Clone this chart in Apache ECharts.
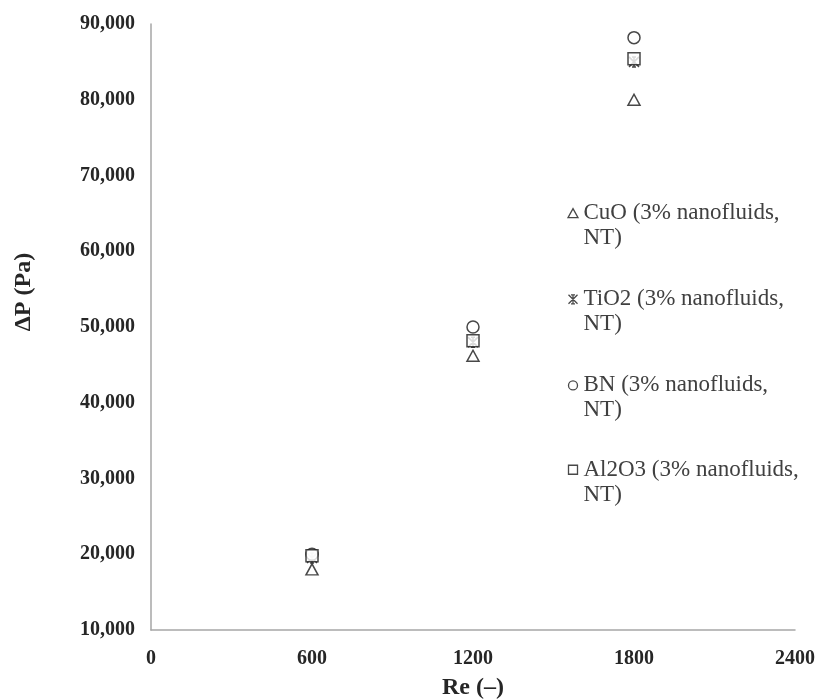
<!DOCTYPE html>
<html>
<head>
<meta charset="utf-8">
<script src="https://cdn.jsdelivr.net/npm/echarts@6/dist/echarts.min.js"></script>
<style>html,body{margin:0;padding:0;background:#fff;}#chart{width:818px;height:700px;}</style>
</head>
<body>
<div id="chart"></div>
<script>
const reynolds = [600, 1200, 1800];
const seriesNames = ['CuO (3% nanofluids,\nNT)', 'TiO2 (3% nanofluids,\nNT)', 'BN (3% nanofluids,\nNT)', 'Al2O3 (3% nanofluids,\nNT)'];
const cuoValues = [18000, 46200, 80000];
const tio2Values = [19500, 48000, 85000];
const bnValues = [20000, 50000, 88200];
const al2o3Values = [19800, 48200, 85400];
const xTicks = [0, 600, 1200, 1800, 2400];
const yTicks = [10000, 20000, 30000, 40000, 50000, 60000, 70000, 80000, 90000];

const font = '"Liberation Serif", "Times New Roman", serif';
const starPath = 'path://M0,0L10,10M10,0L0,10M5,0L5,10M3,0L7,0M3,10L7,10';

// legend icons: shape drawn in the upper part of a tall (two-line) box so it sits beside the first text line
const legendIcons = [
  'path://M0,0M11,50M5.5,8L10.5,17L0.5,17Z',
  'path://M0,0M11,50M1,8L10,17M10,8L1,17M5.5,8L5.5,17M3.5,8L7.5,8M3.5,17L7.5,17',
  'path://M0,0M11,50M1,12.5A4.5,4.5,0,1,0,10,12.5A4.5,4.5,0,1,0,1,12.5Z',
  'path://M0,0M11,50M1,8L10,8L10,17L1,17Z'
];

function pairs(vals) { return reynolds.map((r, i) => [r, vals[i]]); }

const symbolDefs = [
  { symbol: 'triangle', size: [12, 11], fill: '#fff' },
  { symbol: starPath, size: [10, 10], fill: 'none' },
  { symbol: 'circle', size: 12, fill: '#fff' },
  { symbol: 'rect', size: 12, fill: '#fff' }
];
const allValues = [cuoValues, tio2Values, bnValues, al2o3Values];

const series = seriesNames.map((name, i) => ({
  name: name,
  type: 'scatter',
  data: pairs(allValues[i]),
  symbol: symbolDefs[i].symbol,
  symbolSize: symbolDefs[i].size,
  itemStyle: { color: symbolDefs[i].fill, borderColor: '#1a1a1a', borderWidth: 1.5 },
  emphasis: { disabled: true }
}));

const chart = echarts.init(document.getElementById('chart'), null, { renderer: 'canvas' });
chart.setOption({
  backgroundColor: '#fff',
  animation: false,
  grid: { left: 151, right: 23, top: 24, bottom: 70, containLabel: false, outerBoundsMode: 'none' },
  xAxis: {
    type: 'value', min: xTicks[0], max: xTicks[xTicks.length - 1], interval: xTicks[1] - xTicks[0],
    name: 'Re (\u2013)', nameLocation: 'middle', nameGap: 46,
    nameTextStyle: { fontFamily: font, fontWeight: 'bold', fontSize: 24, color: '#262626' },
    axisLine: { show: true, lineStyle: { color: '#a6a6a6', width: 1.5 } },
    axisTick: { show: false },
    splitLine: { show: false },
    axisLabel: { fontFamily: font, fontWeight: 'bold', fontSize: 20, color: '#262626', margin: 19, formatter: v => String(v) }
  },
  yAxis: {
    type: 'value', min: yTicks[0], max: yTicks[yTicks.length - 1], interval: yTicks[1] - yTicks[0],
    name: '\u0394P (Pa)', nameLocation: 'middle', nameGap: 115, nameRotate: 90,
    nameTextStyle: { fontFamily: font, fontWeight: 'bold', fontSize: 24, color: '#262626', padding: [0, 0, 0, 70] },
    axisLine: { show: true, lineStyle: { color: '#a6a6a6', width: 1.5 } },
    axisTick: { show: false },
    splitLine: { show: false },
    axisLabel: {
      fontFamily: font, fontWeight: 'bold', fontSize: 20, color: '#262626', margin: 16,
      formatter: v => v.toLocaleString('en-US')
    }
  },
  legend: {
    orient: 'vertical', left: 560, top: 195,
    itemWidth: 11, itemHeight: 50, itemGap: 33,
    selectedMode: false,
    textStyle: { fontFamily: font, fontSize: 23, color: '#404040', lineHeight: 25 },
    data: seriesNames.map((n, i) => ({
      name: n,
      icon: legendIcons[i],
      itemStyle: { color: i === 1 ? 'none' : '#fff', borderColor: '#1a1a1a', borderWidth: 1.3 }
    }))
  },
  series: series
});
</script>
</body>
</html>
